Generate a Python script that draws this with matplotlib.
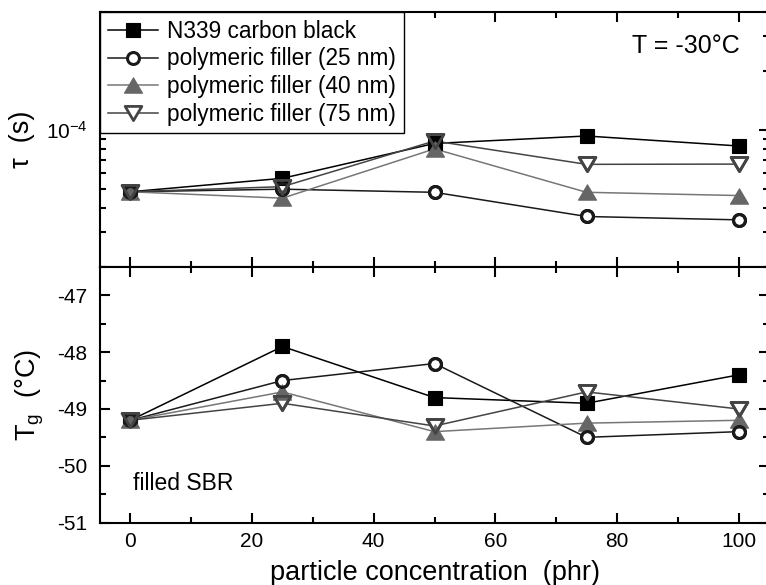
import matplotlib
matplotlib.use("Agg")
import matplotlib.pyplot as plt
from matplotlib.lines import Line2D
from matplotlib.path import Path
from matplotlib.ticker import MultipleLocator, LogLocator, NullFormatter

plt.rcParams['font.family'] = ['Liberation Sans', 'DejaVu Sans']
plt.rcParams['mathtext.fontset'] = 'custom'
plt.rcParams['mathtext.rm'] = 'Liberation Sans'
plt.rcParams['mathtext.it'] = 'Liberation Sans:italic'
plt.rcParams['axes.unicode_minus'] = False

# particle concentration (phr)
concentration = [0, 25, 50, 75, 100]
series_names = ["N339 carbon black", "polymeric filler (25 nm)",
                "polymeric filler (40 nm)", "polymeric filler (75 nm)"]

# relaxation time tau (s) at T = -30 C
tau_n339 = [4.84e-5, 5.67e-5, 8.54e-5, 9.32e-5, 8.29e-5]
tau_pf25 = [4.84e-5, 4.99e-5, 4.81e-5, 3.62e-5, 3.48e-5]
tau_pf40 = [4.84e-5, 4.49e-5, 8.01e-5, 4.81e-5, 4.63e-5]
tau_pf75 = [4.84e-5, 5.14e-5, 8.79e-5, 6.68e-5, 6.70e-5]

# glass transition temperature Tg (C)
tg_n339 = [-49.2, -47.9, -48.8, -48.9, -48.4]
tg_pf25 = [-49.2, -48.5, -48.2, -49.5, -49.4]
tg_pf40 = [-49.2, -48.7, -49.4, -49.25, -49.2]
tg_pf75 = [-49.2, -48.9, -49.3, -48.7, -49.0]

tau_series = [tau_n339, tau_pf25, tau_pf40, tau_pf75]
tg_series = [tg_n339, tg_pf25, tg_pf40, tg_pf75]

tri_up = Path([(-1, -0.85), (1, -0.85), (0, 0.85), (0, 0)], closed=True)
tri_down = Path([(-1, 0.85), (1, 0.85), (0, -0.85), (0, 0)], closed=True)

styles = [
    dict(line='black', marker='s', ms=9.8, mfc='black', mec='black', mew=0.8, hollow=False),
    dict(line='#1a1a1a', marker='o', ms=8.6, mfc='white', mec='#1a1a1a', mew=2.2, hollow=True),
    dict(line='#777777', marker=tri_up, ms=13, mfc='#666666', mec='#666666', mew=0.8, hollow=False),
    dict(line='#444444', marker=tri_down, ms=12, mfc='white', mec='#444444', mew=2.0, hollow=True),
]

fig = plt.figure(figsize=(7.66, 5.85), dpi=100)
W, H = 766.0, 585.0
ax1 = fig.add_axes([100 / W, 1 - 267 / H, 669 / W, 255 / H])
ax2 = fig.add_axes([100 / W, 1 - 522.5 / H, 669 / W, 255.5 / H])


def draw(ax, data):
    for vals, st in zip(data, styles):
        ax.plot(concentration, vals, color=st['line'], lw=1.1, zorder=2)
    for vals, st in zip(data, styles):
        z = 3 if st['hollow'] else 4
        ax.plot(concentration, vals, ls='none', marker=st['marker'], ms=st['ms'],
                mfc=st['mfc'], mec=st['mec'], mew=st['mew'], zorder=z)
        if st['hollow']:
            ax.plot(concentration, vals, ls='none', marker=st['marker'], ms=st['ms'],
                    mfc='none', mec=st['mec'], mew=st['mew'], zorder=5)


draw(ax1, tau_series)
draw(ax2, tg_series)

for ax in (ax1, ax2):
    ax.set_xlim(-5, 105)
    ax.xaxis.set_major_locator(MultipleLocator(20))
    ax.xaxis.set_minor_locator(MultipleLocator(10))
    ax.tick_params(which='both', direction='in', top=True, right=True,
                   width=1.5, labelsize=15)
    ax.tick_params(axis='x', which='both', pad=7)
    ax.tick_params(axis='y', which='both', pad=9)
    ax.tick_params(which='major', length=7)
    ax.tick_params(which='minor', length=4)
    for sp in ax.spines.values():
        sp.set_linewidth(1.5)

ax1.tick_params(labelbottom=False)
ax1.set_yscale('log')
ax1.set_ylim(2e-5, 4e-4)
ax1.yaxis.set_major_locator(LogLocator(base=10))
ax1.yaxis.set_minor_locator(LogLocator(base=10, subs=range(2, 10)))
ax1.yaxis.set_minor_formatter(NullFormatter())

ax2.set_ylim(-51, -46.5)
ax2.yaxis.set_major_locator(MultipleLocator(1))
ax2.yaxis.set_minor_locator(MultipleLocator(0.5))

ax1.set_ylabel('τ  (s)', fontsize=19.5, va='center')
ax1.yaxis.set_label_coords(-0.117, 0.5)
ax2.set_ylabel(r'T$_\mathregular{g}$  (°C)', fontsize=19.5, va='center')
ax2.yaxis.set_label_coords(-0.105, 0.5)
ax2.set_xlabel('particle concentration  (phr)', fontsize=19.5, labelpad=6)

handles = [Line2D([], [], color=st['line'], lw=1.1, marker=st['marker'], ms=st['ms'],
                  mfc=st['mfc'], mec=st['mec'], mew=st['mew']) for st in styles]
leg = ax1.legend(handles, series_names, loc='upper left', bbox_to_anchor=(0, 1),
                 borderaxespad=0, frameon=True, fancybox=False, edgecolor='black',
                 framealpha=1, fontsize=16.3, handlelength=2.2, handletextpad=0.4,
                 labelspacing=0.2, borderpad=0.35)
leg.get_frame().set_linewidth(1.0)

ax1.text(0.957, 0.867, 'T = -30°C', transform=ax1.transAxes, ha='right', va='center',
         fontsize=18)
ax2.text(0.049, 0.151, 'filled SBR', transform=ax2.transAxes, ha='left', va='center',
         fontsize=16.5)

fig.savefig('out.png', dpi=100)
